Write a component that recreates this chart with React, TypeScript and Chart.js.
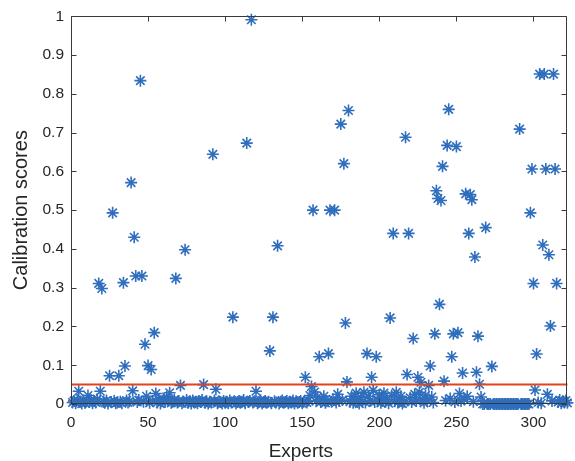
import React, { useEffect, useRef } from 'react';
import { Chart, registerables } from 'chart.js';

Chart.register(...registerables);

// Tick values
const xTicks = [0, 50, 100, 150, 200, 250, 300];
const yTicks = [0, 0.1, 0.2, 0.3, 0.4, 0.5, 0.6, 0.7, 0.8, 0.9, 1];
const xMin = 0;
const xMax = 322;
const yMin = 0;
const yMax = 1;

// Threshold (significance level)
const thresholdX = [0, 322];
const thresholdY = [0.05, 0.05];

// Calibration score of each expert (expert 1 .. 322)
const scores = [
  // 1-10
  0.004, 0.008, 0.002, 0.01, 0.033, 0.006, 0.001, 0.009, 0.003, 0.007,
  // 11-20
  0.022, 0.005, 0.01, 0.002, 0.008, 0.004, 0.012, 0.311, 0.033, 0.298,
  // 21-30
  0.006, 0.003, 0.009, 0.001, 0.073, 0.005, 0.493, 0.008, 0.002, 0.004,
  // 31-40
  0.073, 0.006, 0.002, 0.313, 0.098, 0.009, 0.004, 0.007, 0.571, 0.034,
  // 41-50
  0.43, 0.33, 0.005, 0.01, 0.834, 0.33, 0.006, 0.154, 0.02, 0.099,
  // 51-60
  0.003, 0.089, 0.008, 0.184, 0.027, 0.004, 0.01, 0.001, 0.007, 0.012,
  // 61-70
  0.005, 0.018, 0.009, 0.029, 0.003, 0.006, 0.011, 0.324, 0.004, 0.008,
  // 71-80
  0.048, 0.002, 0.006, 0.398, 0.01, 0.003, 0.007, 0.001, 0.009, 0.004,
  // 81-90
  0.006, 0.002, 0.008, 0.005, 0.01, 0.05, 0.003, 0.007, 0.001, 0.006,
  // 91-100
  0.004, 0.644, 0.009, 0.038, 0.002, 0.007, 0.005, 0.001, 0.008, 0.003,
  // 101-110
  0.006, 0.002, 0.009, 0.004, 0.224, 0.007, 0.001, 0.005, 0.008, 0.003,
  // 111-120
  0.006, 0.01, 0.002, 0.673, 0.005, 0.008, 0.991, 0.004, 0.007, 0.033,
  // 121-130
  0.002, 0.006, 0.009, 0.001, 0.005, 0.008, 0.003, 0.006, 0.137, 0.002,
  // 131-140
  0.224, 0.007, 0.004, 0.408, 0.001, 0.006, 0.009, 0.003, 0.005, 0.008,
  // 141-150
  0.002, 0.006, 0.004, 0.009, 0.001, 0.007, 0.003, 0.005, 0.008, 0.002,
  // 151-160
  0.006, 0.069, 0.004, 0.009, 0.022, 0.045, 0.5, 0.031, 0.007, 0.018,
  // 161-170
  0.122, 0.005, 0.009, 0.02, 0.003, 0.007, 0.13, 0.5, 0.006, 0.012,
  // 171-180
  0.5, 0.004, 0.025, 0.008, 0.722, 0.01, 0.62, 0.209, 0.057, 0.757,
  // 181-190
  0.006, 0.02, 0.003, 0.009, 0.028, 0.005, 0.001, 0.017, 0.007, 0.03,
  // 191-200
  0.004, 0.13, 0.02, 0.008, 0.069, 0.035, 0.005, 0.122, 0.01, 0.024,
  // 201-210
  0.003, 0.008, 0.028, 0.006, 0.012, 0.002, 0.222, 0.022, 0.44, 0.007,
  // 211-220
  0.03, 0.004, 0.009, 0.02, 0.001, 0.006, 0.688, 0.076, 0.44, 0.016,
  // 221-230
  0.005, 0.169, 0.025, 0.008, 0.069, 0.03, 0.056, 0.012, 0.003, 0.022,
  // 231-240
  0.008, 0.048, 0.098, 0.018, 0.004, 0.181, 0.55, 0.53, 0.257, 0.525,
  // 241-250
  0.613, 0.059, 0.009, 0.667, 0.76, 0.014, 0.122, 0.181, 0.005, 0.664,
  // 251-260
  0.184, 0.027, 0.008, 0.08, 0.012, 0.542, 0.02, 0.44, 0.54, 0.527,
  // 261-270
  0.006, 0.379, 0.082, 0.175, 0.051, 0.018, 0, 0, 0.455, 0,
  // 271-280
  0, 0, 0.097, 0, 0, 0, 0, 0, 0, 0,
  // 281-290
  0, 0, 0, 0, 0, 0, 0, 0, 0, 0,
  // 291-300
  0.709, 0, 0, 0, 0, 0, 0, 0.493, 0.606, 0.311,
  // 301-310
  0.036, 0.129, 0.004, 0.851, 0.002, 0.41, 0.851, 0.606, 0.025, 0.385,
  // 311-320
  0.201, 0.008, 0.851, 0.606, 0.311, 0.005, 0.01, 0.002, 0.007, 0.004,
  // 321-322
  0.009, 0.003,
];

const experts = scores.map((_, i) => i + 1);

const xTitle = 'Experts';
const yTitle = 'Calibration scores';

const FONT = "'Liberation Sans', Arial, Helvetica, sans-serif";
const TEXT_COLOR = '#262626';
const AXIS_COLOR = '#3a3a3a';
const MARKER_COLOR = '#2f6ebd';
const LINE_COLOR = '#e2431c';

const framePlugin = {
  id: 'matlabFrame',
  afterDatasetsDraw(chart: any) {
    const { ctx, chartArea: a, scales } = chart;
    const xs = scales.x;
    const ys = scales.y;
    const tl = 5;
    ctx.save();
    ctx.strokeStyle = AXIS_COLOR;
    ctx.lineWidth = 1;
    const L = Math.round(a.left) + 0.5;
    const R = Math.round(a.right) - 0.5;
    const T = Math.round(a.top) + 0.5;
    const B = Math.round(a.bottom) - 0.5;
    ctx.beginPath();
    ctx.rect(L, T, R - L, B - T);
    ctx.stroke();
    ctx.beginPath();
    xTicks.forEach((v) => {
      const px = Math.round(xs.getPixelForValue(v)) + 0.5;
      ctx.moveTo(px, B);
      ctx.lineTo(px, B - tl);
      ctx.moveTo(px, T);
      ctx.lineTo(px, T + tl);
    });
    yTicks.forEach((v) => {
      const py = Math.round(ys.getPixelForValue(v)) + 0.5;
      ctx.moveTo(L, py);
      ctx.lineTo(L + tl, py);
      ctx.moveTo(R, py);
      ctx.lineTo(R - tl, py);
    });
    ctx.stroke();
    ctx.restore();
  },
  afterDraw(chart: any) {
    const { ctx, chartArea: a } = chart;
    ctx.save();
    ctx.fillStyle = TEXT_COLOR;
    ctx.textAlign = 'center';
    ctx.textBaseline = 'alphabetic';
    ctx.font = `19px ${FONT}`;
    ctx.fillText(xTitle, a.left + (a.right - a.left) * 0.463, 457);
    ctx.font = `20px ${FONT}`;
    ctx.translate(27, (a.top + a.bottom) / 2);
    ctx.rotate(-Math.PI / 2);
    ctx.fillText(yTitle, 0, 0);
    ctx.restore();
  },
};

export default function App() {
  const canvasRef = useRef<HTMLCanvasElement | null>(null);

  useEffect(() => {
    if (!canvasRef.current) return;
    const chart = new Chart(canvasRef.current, {
      type: 'scatter',
      data: {
        datasets: [
          {
            label: 'Threshold',
            data: thresholdX.map((x, i) => ({ x, y: thresholdY[i] })),
            showLine: true,
            borderColor: LINE_COLOR,
            backgroundColor: LINE_COLOR,
            borderWidth: 2,
            pointRadius: 0,
            clip: false,
          } as any,
          {
            label: 'Calibration scores',
            data: experts.map((x, i) => ({ x, y: scores[i] })),
            pointStyle: 'star',
            pointRadius: 6,
            pointHoverRadius: 6,
            borderColor: MARKER_COLOR,
            backgroundColor: MARKER_COLOR,
            pointBorderWidth: 1.6,
            borderWidth: 1.6,
            showLine: false,
            clip: false,
          } as any,
        ],
      },
      options: {
        responsive: false,
        animation: false,
        events: [],
        layout: { padding: { left: 0, top: 10, right: 3, bottom: 0 } },
        plugins: {
          legend: { display: false },
          tooltip: { enabled: false },
        },
        scales: {
          x: {
            type: 'linear',
            min: xMin,
            max: xMax,
            afterBuildTicks: (s: any) => {
              s.ticks = xTicks.map((value) => ({ value }));
            },
            afterFit: (s: any) => {
              s.height = 57;
            },
            grid: { display: false, drawTicks: false },
            border: { display: false },
            ticks: {
              padding: 9,
              color: TEXT_COLOR,
              font: { family: FONT, size: 15.5 },
              maxRotation: 0,
              callback: (v: any) => String(v),
            },
          },
          y: {
            type: 'linear',
            min: yMin,
            max: yMax,
            afterBuildTicks: (s: any) => {
              s.ticks = yTicks.map((value) => ({ value }));
            },
            afterFit: (s: any) => {
              s.width = 71;
            },
            grid: { display: false, drawTicks: false },
            border: { display: false },
            ticks: {
              padding: 7,
              color: TEXT_COLOR,
              font: { family: FONT, size: 15.5 },
              callback: (v: any) => String(v),
            },
          },
        },
      } as any,
      plugins: [framePlugin],
    });
    return () => chart.destroy();
  }, []);

  return (
    <div style={{ position: 'absolute', left: 0, top: 0, width: 575, height: 461, background: '#fff' }}>
      <canvas ref={canvasRef} width={575} height={461} />
    </div>
  );
}
